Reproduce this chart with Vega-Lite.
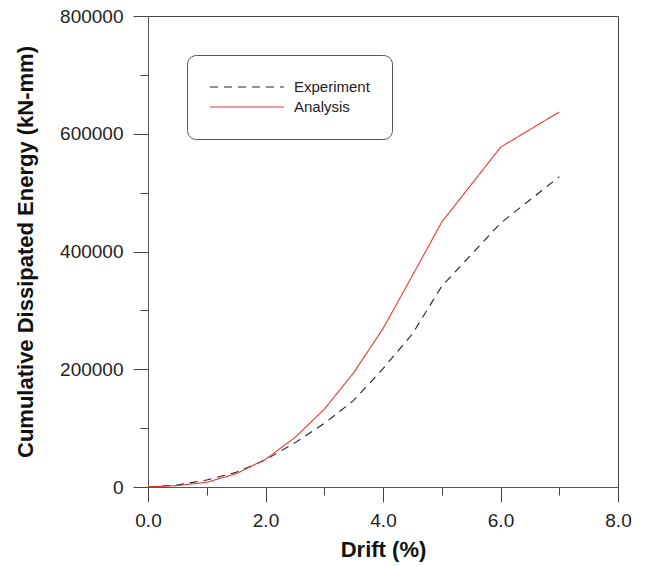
{
  "$schema": "https://vega.github.io/schema/vega-lite/v6.json",
  "autosize": "none",
  "width": 470,
  "height": 471,
  "padding": {"left": 148, "top": 16, "right": 28, "bottom": 79},
  "background": "white",
  "config": {
    "view": {"stroke": "#444", "strokeWidth": 1},
    "font": "Liberation Sans",
    "axis": {
      "labelFont": "Liberation Sans",
      "titleFont": "Liberation Sans",
      "labelFontSize": 19,
      "titleFontSize": 22,
      "titleFontWeight": "bold",
      "labelColor": "#222",
      "titleColor": "#111",
      "domainColor": "#555",
      "tickColor": "#444",
      "grid": false,
      "labelOverlap": false,
      "labelFlush": false
    }
  },
  "data": {
    "values": [
      {"drift": 0, "energy": 0, "series": "Experiment"},
      {"drift": 0.5, "energy": 3400, "series": "Experiment"},
      {"drift": 1, "energy": 12000, "series": "Experiment"},
      {"drift": 1.5, "energy": 25000, "series": "Experiment"},
      {"drift": 2, "energy": 46000, "series": "Experiment"},
      {"drift": 2.5, "energy": 75000, "series": "Experiment"},
      {"drift": 3, "energy": 108000, "series": "Experiment"},
      {"drift": 3.5, "energy": 147000, "series": "Experiment"},
      {"drift": 4, "energy": 201000, "series": "Experiment"},
      {"drift": 4.5, "energy": 260000, "series": "Experiment"},
      {"drift": 5, "energy": 341000, "series": "Experiment"},
      {"drift": 6, "energy": 448000, "series": "Experiment"},
      {"drift": 7, "energy": 527000, "series": "Experiment"},
      {"drift": 0, "energy": 0, "series": "Analysis"},
      {"drift": 0.5, "energy": 2500, "series": "Analysis"},
      {"drift": 1, "energy": 8000, "series": "Analysis"},
      {"drift": 1.5, "energy": 22600, "series": "Analysis"},
      {"drift": 2, "energy": 47000, "series": "Analysis"},
      {"drift": 2.5, "energy": 84000, "series": "Analysis"},
      {"drift": 3, "energy": 132000, "series": "Analysis"},
      {"drift": 3.5, "energy": 194000, "series": "Analysis"},
      {"drift": 4, "energy": 269000, "series": "Analysis"},
      {"drift": 4.5, "energy": 359000, "series": "Analysis"},
      {"drift": 5, "energy": 450000, "series": "Analysis"},
      {"drift": 6, "energy": 577000, "series": "Analysis"},
      {"drift": 7, "energy": 637000, "series": "Analysis"}
    ]
  },
  "mark": {"type": "line", "strokeWidth": 1.1},
  "encoding": {
    "x": {
      "field": "drift",
      "type": "quantitative",
      "scale": {"domain": [0, 8], "nice": false, "zero": false},
      "axis": {
        "title": "Drift (%)",
        "values": [0, 1, 2, 3, 4, 5, 6, 7, 8],
        "labelExpr": "datum.value % 2 === 0 ? format(datum.value, '.1f') : ''",
        "tickSize": {"condition": {"test": "datum.value % 2 === 0", "value": 15}, "value": 8},
        "labelPadding": 9,
        "titlePadding": 9
      }
    },
    "y": {
      "field": "energy",
      "type": "quantitative",
      "scale": {"domain": [0, 800000], "nice": false},
      "axis": {
        "title": "Cumulative Dissipated Energy (kN-mm)",
        "values": [0, 100000, 200000, 300000, 400000, 500000, 600000, 700000, 800000],
        "labelExpr": "datum.value % 200000 === 0 ? format(datum.value, 'd') : ''",
        "tickSize": {"condition": {"test": "datum.value % 200000 === 0", "value": 15}, "value": 8},
        "labelPadding": 10,
        "titlePadding": 22
      }
    },
    "color": {
      "field": "series",
      "type": "nominal",
      "scale": {"domain": ["Experiment", "Analysis"], "range": ["#222222", "#e8392f"]},
      "legend": {
        "title": null,
        "orient": "none",
        "legendX": 39,
        "legendY": 39,
        "symbolType": "stroke",
        "symbolSize": 5476,
        "symbolStrokeWidth": 1.1,
        "clipHeight": 20,
        "rowPadding": 0,
        "labelOffset": 9,
        "labelFont": "Liberation Sans",
        "labelFontSize": 15,
        "labelColor": "#222",
        "padding": 22,
        "cornerRadius": 9,
        "strokeColor": "#555",
        "fillColor": "white"
      }
    },
    "strokeDash": {
      "field": "series",
      "type": "nominal",
      "scale": {"domain": ["Experiment", "Analysis"], "range": [[8, 6], [1, 0]]},
      "legend": null
    }
  }
}
